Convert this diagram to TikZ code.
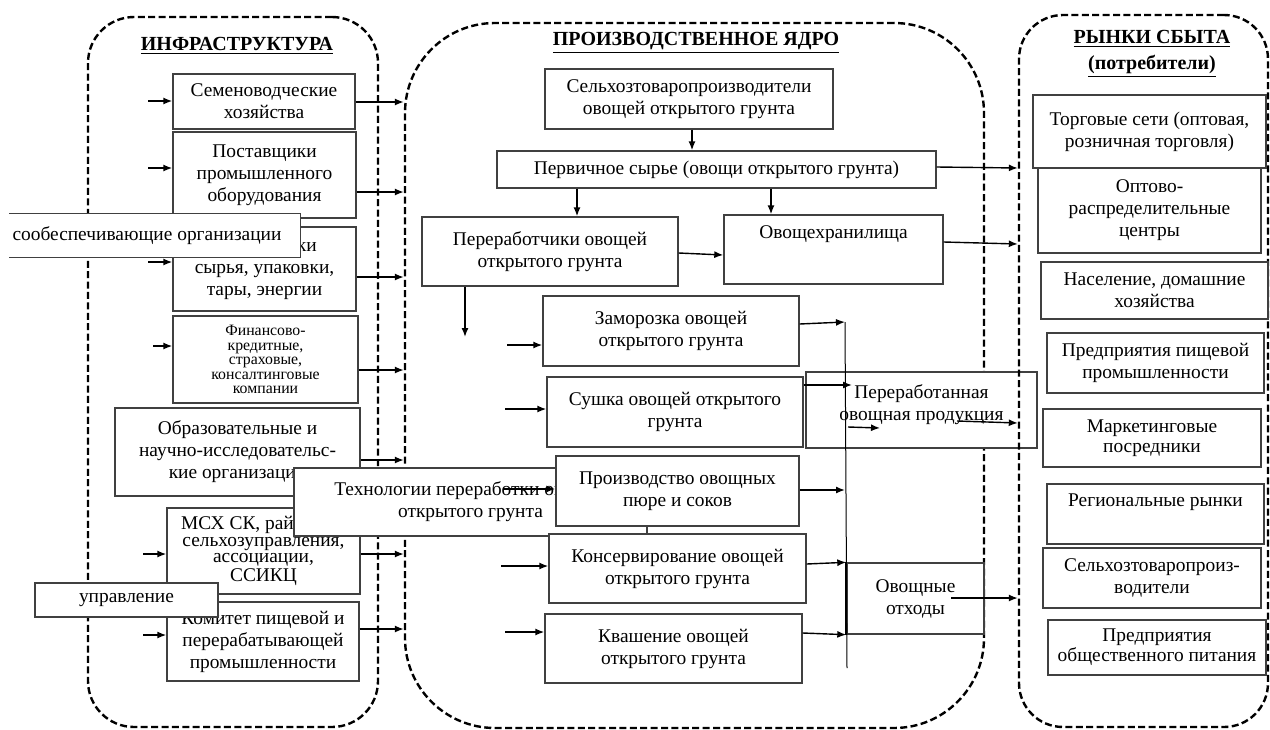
\documentclass[tikz,border=0pt]{standalone}
\usepackage{fontspec}
\setmainfont{Liberation Serif}
\usetikzlibrary{arrows.meta}
\tikzset{
  span/.style args={#1/#2/#3/#4}{at={({(#1+#3)/2},{(#2+#4)/2})}, minimum width={(#3-#1)*0.5pt}, minimum height={(#4-#2)*0.5pt}},
  box/.style={draw=black!75, line width=0.7pt, fill=white, inner sep=0pt, align=center, font=\fontsize{9.7}{11}\selectfont},
  zone/.style={draw, line width=1.2pt, dash pattern=on 3.5pt off 1.7pt, inner sep=0pt},
  head/.style={font=\bfseries\fontsize{10}{13}\selectfont, align=center},
  arr/.style={-{Latex[length=4.5pt,width=3.5pt]}, line width=0.7pt},
}

\begin{document}
\begin{tikzpicture}[x=0.5pt,y=-0.5pt]
  \useasboundingbox (0,0) rectangle (1270,729);

  \node[zone, rounded corners=23pt, span=88/17/378/727] (infra) {};
  \node[zone, rounded corners=45pt, span=405/23/984/728] (core) {};
  \node[head] (infratitle) at (237,46) {\underline{ИНФРАСТРУКТУРА}};
  \node[head] (coretitle) at (696,43) {\underline{ПРОИЗВОДСТВЕННОЕ ЯДРО}};

  \node[box, span=173/74/355/129] (semen) {Семеноводческие\\хозяйства};
  \node[box, span=173/132/356/218] (oborud) {Поставщики\\промышленного\\оборудования};
  \node[box, span=173/227/356/311] (syrie) {Поставщики\\сырья, упаковки,\\тары, энергии};
  \node[box, span=173/316/358/403, font=\fontsize{7.9}{7.3}\selectfont] (finans) {Финансово-\\кредитные,\\страховые,\\консалтинговые\\компании};
  \node[box, span=115/408/360/496] (obraz) {Образовательные и\\научно-исследовательс-\\кие организации};
  \node[box, span=167/508/360/594, font=\fontsize{9.7}{8.2}\selectfont] (msh) {МСХ СК, районные\\сельхозуправления,\\ассоциации,\\ССИКЦ};
  \node[box, span=167/602/359/681] (komitet) {Комитет пищевой и\\перерабатывающей\\промышленности};

  \node[box, draw=none, span=10/214/300/257] (resurs) {сообеспечивающие организации\hspace*{8pt}};
  \draw[black!75, line width=0.7pt] (resurs.north west) -- (resurs.north east) -- (resurs.south east) -- (resurs.south west);
  \node[box, span=294/468/647/536] (tehn) {Технологии переработки овощей\\открытого грунта};
  \node[box, span=35/583/218/617] (upravl) {управление};

  \node[box, span=545/69/833/129] (selhoz) {Сельхозтоваропроизводители\\овощей открытого грунта};
  \node[box, span=497/151/936/188] (perv) {Первичное сырье (овощи открытого грунта)};
  \node[box, span=422/217/678/286] (pererab) {Переработчики овощей\\открытого грунта};
  \node[box, span=724/215/943/284] (hran) {Овощехранилища\\[6.6pt]\mbox{}};
  \node[box, span=543/296/799/366] (zamor) {Заморозка овощей\\открытого грунта};
  \node[box, span=547/377/803/447] (sushka) {Сушка овощей открытого\\грунта};
  \node[box, span=556/456/799/526] (proizv) {Производство овощных\\пюре и соков};
  \node[box, span=549/534/806/603] (konserv) {Консервирование овощей\\открытого грунта};
  \node[box, span=545/614/802/683] (kvash) {Квашение овощей\\открытого грунта};
  \node[box, span=806/372/1037/448] (gotov) {Переработанная\\овощная продукция\\[-3.5pt]\mbox{}};
  \node[box, span=847/563/984/634] (othody) {Овощные\\отходы};

  \node[zone, rounded corners=22pt, span=1019/15/1268/727] (rynki) {};
  \node[head] (rynkititle) at (1152,54) {\underline{РЫНКИ СБЫТА}\\\underline{(потребители)}};

  \node[box, span=1033/95/1266/168] (torg) {Торговые сети (оптовая,\\розничная торговля)};
  \node[box, span=1038/168/1261/253] (optcentr) {Оптово-\\распределительные\\центры};
  \node[box, span=1041/262/1268/319] (naselen) {Население, домашние\\хозяйства};
  \node[box, span=1047/333/1264/393] (pishch) {Предприятия пищевой\\промышленности};
  \node[box, span=1043/409/1261/467, font=\fontsize{9.7}{10}\selectfont] (posred) {Маркетинговые\\посредники};
  \node[box, span=1047/484/1264/544] (region) {Региональные рынки\\[3.1pt]\mbox{}};
  \node[box, span=1043/548/1261/608] (selhozm) {Сельхозтоваропроиз-\\водители};
  \node[box, span=1048/620/1266/675, font=\fontsize{9.7}{10}\selectfont] (obshchep) {Предприятия\\общественного питания};

  \foreach \n/\x/\y in {semen/148/101, oborud/148/168, syrie/148/262, finans/153/346, msh/143/554, komitet/143/635, zamor/507/345, sushka/505/409, proizv/503/489, konserv/501/566, kvash/505/632} {
    \coordinate (in-\n) at (\x,\y);
    \draw[arr] (in-\n) -- (in-\n -| \n.west);
  }
  \foreach \n/\y in {semen/102, oborud/192, syrie/277, finans/370, obraz/460, msh/554, komitet/629}
    \draw[arr] (\n.east |- 0,\y) -- (core.west |- 0,\y);

  \draw[arr] (selhoz.south -| 692,0) -- (perv.north -| 692,0);
  \draw[arr] (perv.south -| 577,0) -- (pererab.north -| 577,0);
  \draw[arr] (perv.south -| 771,0) -- (hran.north -| 771,0);
  \draw[arr] (pererab.east |- 0,253) -- (hran.west |- 0,255);
  \coordinate (down) at (465,337);
  \draw[arr] (pererab.south -| down) -- (down);
  \draw[arr] (perv.east |- 0,167) -- (rynki.west |- 0,168);
  \draw[arr] (hran.east |- 0,242) -- (rynki.west |- 0,244);

  \coordinate (colltop) at (845,322);
  \coordinate (collbot) at (847,668);
  \draw[line width=0.5pt] (colltop) -- (collbot);
  \draw[line width=1.1pt] (othody.north west) -- (othody.south west);
  \draw[arr] (zamor.east |- 0,324) -- (colltop);
  \coordinate (g1) at (852,385);
  \draw[arr] (sushka.east |- 0,385) -- (g1);
  \draw[arr] (proizv.east |- 0,490) -- (colltop |- 0,490);
  \draw[arr] (konserv.east |- 0,564) -- (othody.north west);
  \draw[arr] (kvash.east |- 0,633) -- (othody.south west);
  \coordinate (g2) at (848,427);
  \coordinate (g3) at (880,428);
  \draw[arr] (g2) -- (g3);
  \coordinate (g4) at (957,421);
  \draw[arr] (g4) -- (rynki.west |- 0,423);
  \coordinate (o1) at (951,598);
  \draw[arr] (o1) -- (rynki.west |- 0,598);
\end{tikzpicture}
\end{document}
